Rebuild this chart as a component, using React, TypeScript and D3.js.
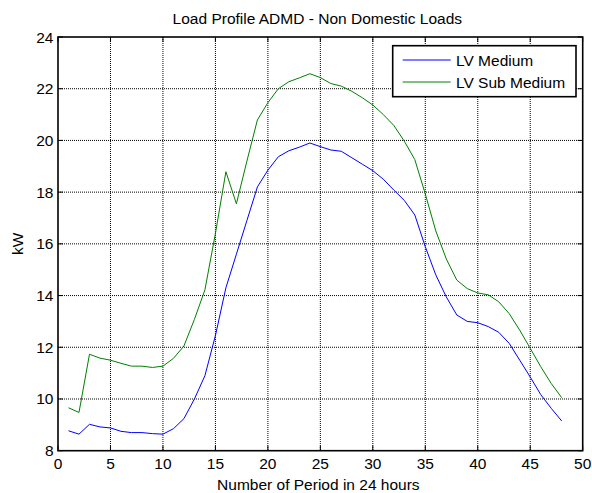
import React from "react";
import * as d3 from "d3";

const periods = d3.range(1, 49);

const lvMedium = [
  8.77, 8.64, 9.02, 8.92, 8.88, 8.75, 8.7, 8.7, 8.66, 8.64,
  8.85, 9.24, 10.0, 10.9, 12.45, 14.3, 15.6, 16.9, 18.2, 18.85,
  19.37, 19.6, 19.74, 19.9, 19.76, 19.63, 19.58, 19.33, 19.08, 18.83,
  18.5, 18.08, 17.68, 17.12, 15.89, 14.8, 13.95, 13.25, 13.0, 12.95,
  12.8, 12.58, 12.15, 11.5, 10.85, 10.17, 9.64, 9.15,
];

const lvSubMedium = [
  9.66, 9.48, 11.73, 11.58, 11.5, 11.38, 11.27, 11.27, 11.22, 11.27,
  11.57, 12.05, 13.08, 14.22, 16.4, 18.79, 17.55, 19.2, 20.79, 21.46,
  22.0, 22.27, 22.42, 22.58, 22.43, 22.2, 22.1, 21.9, 21.65, 21.37,
  21.0, 20.58, 19.97, 19.26, 17.93, 16.5, 15.42, 14.6, 14.27, 14.1,
  14.03, 13.76, 13.3, 12.66, 11.96, 11.25, 10.6, 10.05,
];

const series = [
  { name: "LV Medium", values: lvMedium, color: "#0000ff" },
  { name: "LV Sub Medium", values: lvSubMedium, color: "#008000" },
];

const xTicks = [0, 5, 10, 15, 20, 25, 30, 35, 40, 45, 50];
const yTicks = [8, 10, 12, 14, 16, 18, 20, 22, 24];

const W = 592;
const H = 493;
const margin = { top: 37, right: 9.3, bottom: 42.3, left: 58 };
const font = "Liberation Sans, Arial, sans-serif";

export default function App() {
  const x = d3.scaleLinear().domain([0, 50]).range([margin.left, W - margin.right]);
  const y = d3.scaleLinear().domain([8, 24]).range([H - margin.bottom, margin.top]);
  const [x0, x1] = x.range();
  const [y0, y1] = y.range();

  const line = (vals: number[]) =>
    d3
      .line<number>()
      .x((_, i) => x(periods[i]))
      .y((d) => y(d))(vals) as string;

  const tickLen = 5;

  return (
    <svg
      width={W}
      height={H}
      style={{ position: "absolute", left: 0, top: 0, background: "#fff" }}
      fontFamily={font}
    >
      <rect x={0} y={0} width={W} height={H} fill="#fff" />

      {/* dotted grid */}
      <g stroke="#000" strokeWidth={1} strokeDasharray="1,1">
        {xTicks.slice(1, -1).map((t) => (
          <line key={"gx" + t} x1={x(t)} x2={x(t)} y1={y1} y2={y0} />
        ))}
        {yTicks.slice(1, -1).map((t) => (
          <line key={"gy" + t} x1={x0} x2={x1} y1={y(t)} y2={y(t)} />
        ))}
      </g>

      {/* ticks on all four sides, pointing inward */}
      <g stroke="#000" strokeWidth={1}>
        {xTicks.map((t) => (
          <g key={"tx" + t}>
            <line x1={x(t)} x2={x(t)} y1={y0} y2={y0 - tickLen} />
            <line x1={x(t)} x2={x(t)} y1={y1} y2={y1 + tickLen} />
          </g>
        ))}
        {yTicks.map((t) => (
          <g key={"ty" + t}>
            <line x1={x0} x2={x0 + tickLen} y1={y(t)} y2={y(t)} />
            <line x1={x1} x2={x1 - tickLen} y1={y(t)} y2={y(t)} />
          </g>
        ))}
      </g>

      {series.map((s) => (
        <path key={s.name} d={line(s.values)} fill="none" stroke={s.color} strokeWidth={1} />
      ))}

      <rect
        x={x0}
        y={y1}
        width={x1 - x0}
        height={y0 - y1}
        fill="none"
        stroke="#000"
        strokeWidth={1.6}
      />

      {/* tick labels */}
      <g fontSize={15.5} fill="#000">
        {xTicks.map((t) => (
          <text key={"lx" + t} x={x(t)} y={y0 + 18.5} textAnchor="middle">
            {t}
          </text>
        ))}
        {yTicks.map((t) => (
          <text key={"ly" + t} x={x0 - 4.5} y={y(t) + 5.5} textAnchor="end">
            {t}
          </text>
        ))}
      </g>

      <text x={(x0 + x1) / 2 - 3} y={24} fontSize={15.5} textAnchor="middle">
        Load Profile ADMD - Non Domestic Loads
      </text>
      <text x={(x0 + x1) / 2 - 2} y={490} fontSize={15.5} textAnchor="middle">
        Number of Period in 24 hours
      </text>
      <text
        transform={`translate(23,${(y0 + y1) / 2}) rotate(-90)`}
        fontSize={15.5}
        textAnchor="middle"
      >
        kW
      </text>

      {/* legend */}
      <g>
        <rect x={392.7} y={45.7} width={183.3} height={51} fill="#fff" stroke="#000" strokeWidth={1.6} />
        {series.map((s, i) => (
          <g key={"lg" + s.name}>
            <line x1={402.7} x2={450.7} y1={60 + i * 22} y2={60 + i * 22} stroke={s.color} strokeWidth={1} />
            <text x={456} y={65.5 + i * 22} fontSize={15.5}>
              {s.name}
            </text>
          </g>
        ))}
      </g>
    </svg>
  );
}
